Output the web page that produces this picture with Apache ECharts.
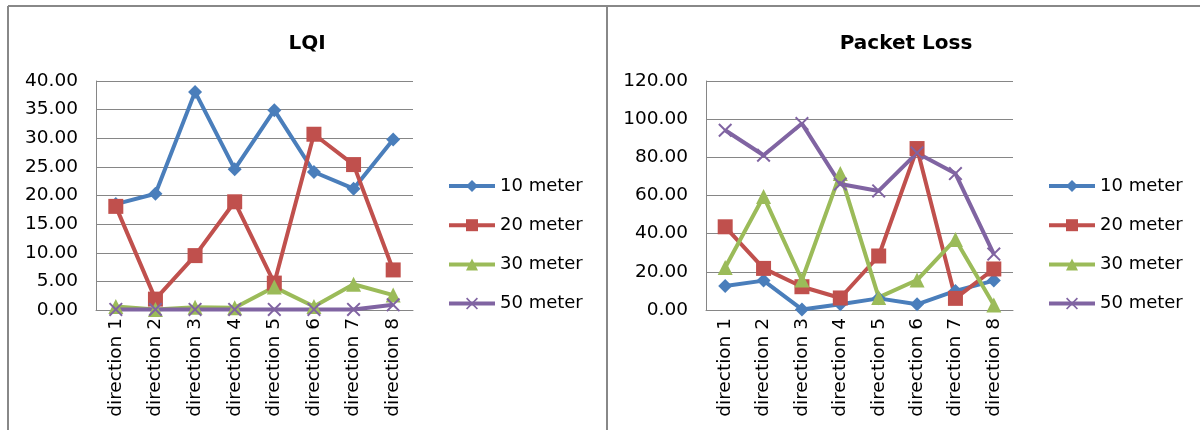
<!DOCTYPE html>
<html>
<head>
<meta charset="utf-8">
<script src="https://cdn.jsdelivr.net/npm/echarts@6/dist/echarts.min.js"></script>
<style>html,body{margin:0;padding:0;background:#fff}#c{width:1200px;height:430px}</style>
</head>
<body>
<div id="c"></div>
<script>
const categories = ['direction 1','direction 2','direction 3','direction 4','direction 5','direction 6','direction 7','direction 8'];
const seriesNames = ['10 meter','20 meter','30 meter','50 meter'];
const lqi10 = [18.5, 20.3, 38.1, 24.6, 34.9, 24.1, 21.2, 29.8];
const lqi20 = [18.1, 1.9, 9.5, 18.9, 4.7, 30.7, 25.4, 7.0];
const lqi30 = [0.6, 0.1, 0.5, 0.4, 4.0, 0.6, 4.5, 2.6];
const lqi50 = [0.1, 0.1, 0.1, 0.1, 0.1, 0.1, 0.1, 0.9];
const loss10 = [12.6, 15.4, 0.3, 3.0, 6.1, 3.0, 10.0, 15.4];
const loss20 = [43.6, 21.8, 12.2, 6.3, 28.3, 84.6, 6.1, 21.5];
const loss30 = [22.3, 59.5, 15.7, 71.5, 6.6, 15.7, 37.0, 2.6];
const loss50 = [94.2, 81.1, 97.7, 66.0, 62.4, 82.3, 71.5, 29.3];
const lqiTicks = [0, 5, 10, 15, 20, 25, 30, 35, 40];
const lossTicks = [0, 20, 40, 60, 80, 100, 120];
const titles = ['LQI', 'Packet Loss'];

const colors = ['#4A7EBB', '#C0504D', '#9BBB59', '#8064A2'];
const crossPath = 'path://M0,1L1,0L5,4L9,0L10,1L6,5L10,9L9,10L5,6L1,10L0,9L4,5Z';
const symbols = ['diamond', 'rect', 'triangle', crossPath];
const symbolSizes = [14, 15, 15, 14];
const FONT = 'DejaVu Sans';

const chart = echarts.init(document.getElementById('c'), null, {renderer: 'canvas'});

function makeSeries(data, gi) {
  return data.map((d, i) => ({
    name: seriesNames[i],
    type: 'line',
    xAxisIndex: gi,
    yAxisIndex: gi,
    data: d,
    symbol: symbols[i],
    symbolSize: symbolSizes[i],
    showAllSymbol: true,
    lineStyle: {width: 4, color: colors[i]},
    itemStyle: {color: colors[i]},
    emphasis: {disabled: true},
    animation: false
  }));
}

function xAxis(gi) {
  return {
    type: 'category', gridIndex: gi, data: categories, boundaryGap: true,
    axisLine: {show: true, lineStyle: {color: '#868686', width: 1}},
    axisTick: {show: false},
    axisLabel: {rotate: 90, margin: 8, color: '#000', fontFamily: FONT, fontSize: 18.5, interval: 0}
  };
}
function yAxis(gi, ticks) {
  return {
    type: 'value', gridIndex: gi, min: ticks[0], max: ticks[ticks.length - 1],
    interval: ticks[1] - ticks[0],
    axisLine: {show: true, lineStyle: {color: '#868686', width: 1}},
    axisTick: {show: false},
    splitLine: {show: true, lineStyle: {color: '#868686', width: 1}},
    axisLabel: {margin: 18, color: '#000', fontFamily: FONT, fontSize: 18.5, formatter: v => v.toFixed(2)}
  };
}
function legend(left) {
  return {
    data: seriesNames, orient: 'vertical', left: left, top: 172,
    itemWidth: 46, itemHeight: 15, itemGap: 21.2,
    lineStyle: {width: 4},
    textStyle: {color: '#000', fontFamily: FONT, fontSize: 18, lineHeight: 18},
    selectedMode: false
  };
}

const option = {
  animation: false,
  color: colors,
  title: [
    {text: titles[0], left: 302, top: 29, textAlign: 'center', textStyle: {fontFamily: FONT, fontSize: 20, fontWeight: 'bold', color: '#000'}},
    {text: titles[1], left: 901, top: 29, textAlign: 'center', textStyle: {fontFamily: FONT, fontSize: 20, fontWeight: 'bold', color: '#000'}}
  ],
  grid: [
    {left: 96, right: 787, top: 81, bottom: 120},
    {left: 706, right: 187, top: 81, bottom: 120}
  ],
  legend: [legend(442), legend(1042)],
  xAxis: [xAxis(0), xAxis(1)],
  yAxis: [yAxis(0, lqiTicks), yAxis(1, lossTicks)],
  series: [].concat(
    makeSeries([lqi10, lqi20, lqi30, lqi50], 0),
    makeSeries([loss10, loss20, loss30, loss50], 1)
  ),
  graphic: [
    {type: 'line', shape: {x1: 8, y1: 6, x2: 1200, y2: 6}, style: {stroke: '#888', lineWidth: 2}},
    {type: 'line', shape: {x1: 8, y1: 6, x2: 8, y2: 430}, style: {stroke: '#888', lineWidth: 2}},
    {type: 'line', shape: {x1: 607, y1: 6, x2: 607, y2: 430}, style: {stroke: '#888', lineWidth: 2}}
  ]
};
chart.setOption(option);
</script>
</body>
</html>
